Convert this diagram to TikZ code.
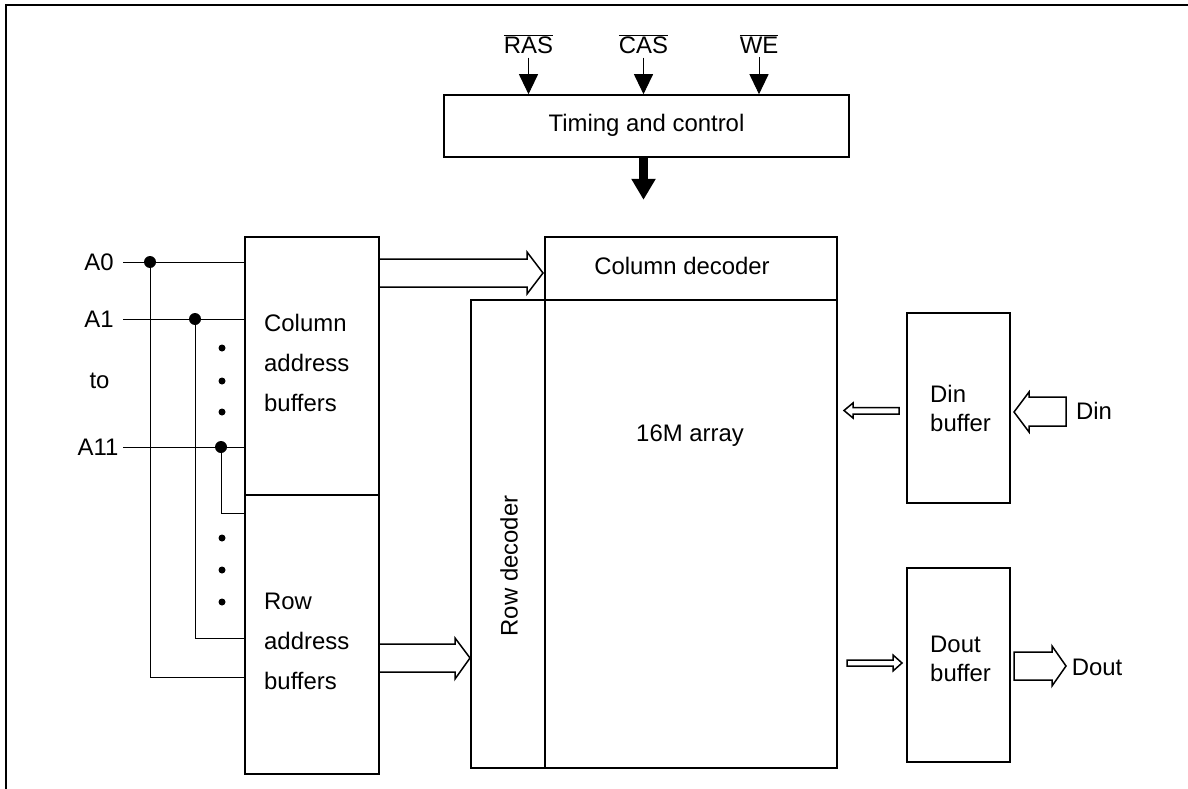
\documentclass[tikz,border=0pt]{standalone}
\usepackage{fontspec}
\setmainfont{Liberation Sans}
\usetikzlibrary{arrows.meta}
\begin{document}
\begin{tikzpicture}[x=1pt,y=-1pt,
  box/.style={draw, line width=1.6pt, inner sep=0pt, rectangle},
  lbl/.style={inner sep=0pt, font=\fontsize{23.9}{28}\selectfont},
  blk/.style={inner sep=0pt, align=left, anchor=west, font=\fontsize{23.9}{40}\selectfont},
  blks/.style={inner sep=0pt, align=left, anchor=west, font=\fontsize{23.9}{29}\selectfont},
  wire/.style={line width=1pt},
  hollow/.style={draw, line width=1.5pt, line join=miter},
  ctl/.style={line width=1pt, -{Triangle[length=20pt,width=19pt]}},
]
\useasboundingbox (0,0) rectangle (1188,789);
% frame
\draw[line width=1.8pt] (1188,5) -- (6,5) -- (6,789);

% boxes
\node[box, minimum width=405, minimum height=62] (tc) at (646.5,126) {};
\node[box, minimum width=134, minimum height=258] (cab) at (312,366) {};
\node[box, minimum width=134, minimum height=279] (rab) at (312,634.5) {};
\node[box, minimum width=292, minimum height=63] (coldec) at (691,268.5) {};
\node[box, minimum width=74, minimum height=468] (rowdec) at (508,534) {};
\node[box, minimum width=292, minimum height=468] (arr) at (691,534) {};
\node[box, minimum width=103, minimum height=190] (dinb) at (958.5,408) {};
\node[box, minimum width=103, minimum height=194] (doutb) at (958.5,665) {};

% texts
\node[lbl] (tctext) at (646.5,125) {Timing and control};
\node[lbl] (cdtext) at (682,266) {Column decoder};
\node[lbl] (artext) at (690,436) {16M array};
\node[lbl, rotate=90] (rdtext) at (509,566) {Row decoder};
\node[blk] (cabtext) at (264,363) {Column\\address\\buffers};
\node[blk] (rabtext) at (264,641) {Row\\address\\buffers};
\node[blks] (dintext) at (930,408.5) {Din\\buffer};
\node[blks] (douttext) at (930,658.5) {Dout\\buffer};
\node[lbl] (din) at (1094,411) {Din};
\node[lbl] (dout) at (1097,667) {Dout};

% control inputs
\node[lbl] (ras) at (528.5,44) {$\overline{\hbox{RAS}}$};
\node[lbl] (cas) at (643.5,44) {$\overline{\hbox{CAS}}$};
\node[lbl] (we) at (759,44) {$\overline{\hbox{WE}}$};
\draw[ctl] (ras.south) ++(0,4) -- (ras.south |- tc.north);
\draw[ctl] (cas.south) ++(0,4) -- (cas.south |- tc.north);
\draw[ctl] (we.south) ++(0,4) -- (we.south |- tc.north);
\draw[line width=8.5pt, -{Triangle[length=21pt,width=23pt]}] (cas.south |- tc.south) -- ++(0,42);

% address labels
\node[lbl] (a0) at (99,262) {A0};
\node[lbl] (a1) at (99,319) {A1};
\node[lbl] (to) at (99.5,381) {to};
\node[lbl] (a11) at (98,447) {A11};

\coordinate (a0s) at (123,262);
\coordinate (a1s) at (123,319);
\coordinate (a11s) at (123,447);
\coordinate (j0) at (150,262);
\coordinate (j1) at (195,319);
\coordinate (j11) at (221,447);

\draw[wire] (a0s) -- (a0s -| cab.west);
\draw[wire] (a1s) -- (a1s -| cab.west);
\draw[wire] (a11s) -- (a11s -| cab.west);
\draw[wire] (j0) |- (rab.west |- 0,677);
\draw[wire] (j1) |- (rab.west |- 0,638);
\draw[wire] (j11) |- (rab.west |- 0,513);
\fill (j0) circle (6);
\fill (j1) circle (6);
\fill (j11) circle (6);
\foreach \yy in {348,381,412,538,570,602} \fill (222,\yy) circle (3.5);

% hollow arrows
\draw[hollow] (cab.east |- 0,259) -- (527,259) -- (527,252) -- (543,273) -- (527,294) -- (527,287) -- (cab.east |- 0,287);
\draw[hollow] (rab.east |- 0,644) -- (455,644) -- (455,638) -- (470,658) -- (455,679) -- (455,672) -- (rab.east |- 0,672);
\draw[hollow] (899,407.5) -- (853,407.5) -- (853,403) -- (844,410.5) -- (853,418) -- (853,414) -- (899,414) -- cycle;
\draw[hollow] (1066,397) -- (1029,397) -- (1029,392) -- (1014,412) -- (1029,432) -- (1029,426) -- (1066,426) -- cycle;
\draw[hollow] (847,660) -- (893,660) -- (893,655) -- (902,663) -- (893,671) -- (893,666) -- (847,666) -- cycle;
\draw[hollow] (1014,652) -- (1052,652) -- (1052,646) -- (1066,666) -- (1052,686) -- (1052,680) -- (1014,680) -- cycle;
\end{tikzpicture}
\end{document}
